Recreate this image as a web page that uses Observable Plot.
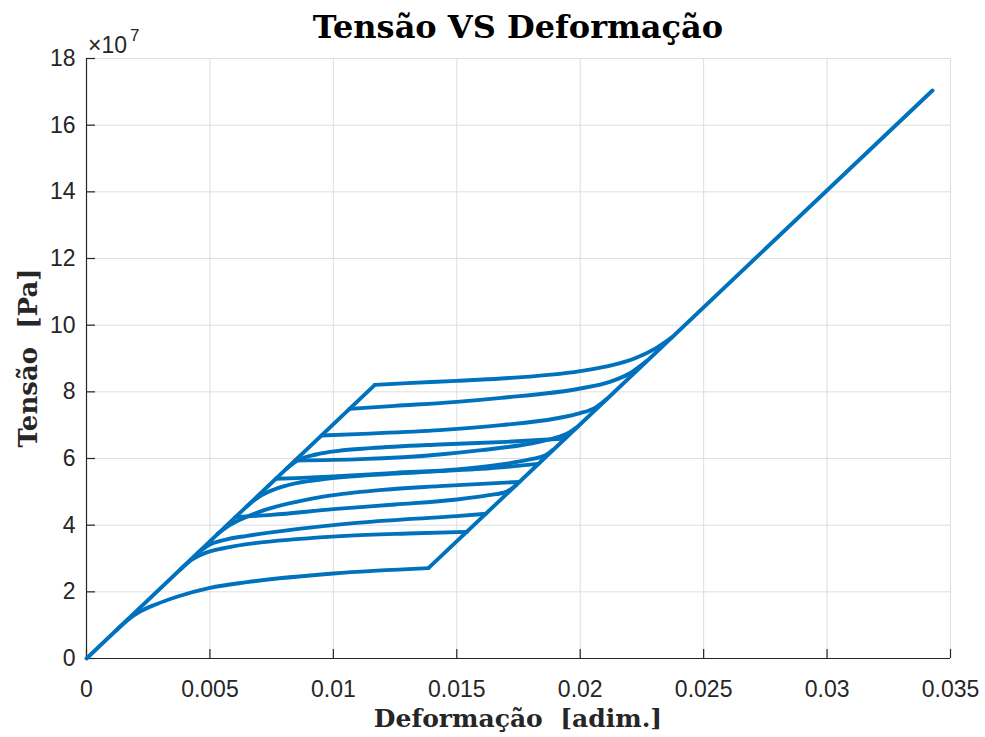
<!DOCTYPE html>
<html><head><meta charset="utf-8">
<script src="https://cdn.jsdelivr.net/npm/d3@7"></script>
<script src="https://cdn.jsdelivr.net/npm/@observablehq/plot@0.6"></script>
<style>body{margin:0;background:#fff;} #chart{width:985px;height:737px;}</style>
</head><body><div id="chart"></div>
<script>
// Tick values
const xTicks = [0, 0.005, 0.01, 0.015, 0.02, 0.025, 0.03, 0.035];
const yTicks = [0, 2, 4, 6, 8, 10, 12, 14, 16, 18]; // ×10^7 Pa

// Elastic branches [strain, stress (×10^7 Pa)]
const austeniteLine = [[0, 0], [0.01168, 8.21]];
const martensiteLine = [[0.01385, 2.71], [0.03427, 17.04]];

// Forward transformation branches (start on left line, merge into right line)
const forward1 = [[0.01168,8.21],[0.0130,8.26],[0.0150,8.33],[0.0168,8.40],[0.0200,8.62],[0.0213,8.80],[0.0222,9.00],[0.0230,9.28],[0.0237,9.63]];
const forward2 = [[0.01065,7.49],[0.0125,7.58],[0.0150,7.70],[0.0168,7.82],[0.0200,8.10],[0.0212,8.30],[0.0220,8.55],[0.0227,8.93]];
const forward3 = [[0.00952,6.69],[0.0112,6.74],[0.0143,6.85],[0.0168,7.00],[0.0190,7.20],[0.0200,7.36],[0.0206,7.52],[0.0211,7.80]];
const forward4 = [[0.00845,5.94],[0.0111,5.98],[0.0143,6.12],[0.0160,6.25],[0.0180,6.45],[0.0189,6.60],[0.0195,6.76],[0.0199,6.96]];
const forward5 = [[0.00767,5.39],[0.0085,5.41],[0.0100,5.46],[0.0125,5.57],[0.0150,5.67],[0.0168,5.82],[0.0180,5.98],[0.0186,6.10],[0.0189,6.26]];
const forward6 = [[0.00603,4.24],[0.0075,4.31],[0.0100,4.48],[0.0125,4.62],[0.0150,4.77],[0.0163,4.90],[0.0170,5.00],[0.0174,5.20]];

// Reverse transformation branches (merge into left line, start on right line)
const reverse1 = [[0.0012,0.84],[0.0017,1.17],[0.0022,1.42],[0.0028,1.62],[0.0037,1.86],[0.0050,2.12],[0.0065,2.29],[0.0100,2.55],[0.01385,2.71]];
const reverse2 = [[0.0038,2.67],[0.0043,2.98],[0.0048,3.16],[0.0055,3.30],[0.0065,3.43],[0.0085,3.58],[0.0105,3.68],[0.0130,3.75],[0.01541,3.80]];
const reverse3 = [[0.0045,3.16],[0.0050,3.42],[0.0056,3.56],[0.0065,3.68],[0.0085,3.88],[0.0105,4.04],[0.0130,4.18],[0.0150,4.27],[0.01617,4.34]];
const reverse4 = [[0.0053,3.73],[0.0058,4.00],[0.0064,4.22],[0.0072,4.45],[0.0085,4.70],[0.0100,4.90],[0.0120,5.06],[0.0143,5.17],[0.01754,5.30]];
const reverse5 = [[0.0065,4.57],[0.0070,4.86],[0.0076,5.07],[0.0085,5.26],[0.0097,5.39],[0.0115,5.50],[0.0143,5.62],[0.0160,5.69],[0.01831,5.84]];
const reverse6 = [[0.0081,5.69],[0.0086,5.96],[0.0093,6.12],[0.0102,6.23],[0.0115,6.31],[0.0143,6.42],[0.0170,6.50],[0.01939,6.60]];

const toRows = (id, pts) => pts.map(([strain, stress]) => ({id, strain, stress}));
const straightRows = [...toRows("A", austeniteLine), ...toRows("M", martensiteLine)];
const curveRows = [
  ["f1", forward1], ["f2", forward2], ["f3", forward3], ["f4", forward4], ["f5", forward5], ["f6", forward6],
  ["r1", reverse1], ["r2", reverse2], ["r3", reverse3], ["r4", reverse4], ["r5", reverse5], ["r6", reverse6]
].flatMap(([id, pts]) => toRows(id, pts));

const blue = "#0072BD";
const axisColor = "#262626";
const W = 985, H = 737, mL = 86, mR = 35, mT = 58, mB = 79;
const fw = W - mL - mR, fh = H - mT - mB;

const svg = Plot.plot({
  width: W, height: H,
  marginLeft: mL, marginRight: mR, marginTop: mT, marginBottom: mB,
  style: {fontFamily: "'Liberation Sans', Arial, Helvetica, sans-serif", fontSize: "23px", color: axisColor, background: "#fff"},
  x: {domain: [0, 0.035], label: null},
  y: {domain: [0, 18], label: null},
  marks: [
    Plot.gridX(xTicks, {stroke: "#dedede", strokeOpacity: 1, strokeWidth: 1}),
    Plot.gridY(yTicks, {stroke: "#dedede", strokeOpacity: 1, strokeWidth: 1}),
    Plot.axisX(xTicks, {tickSize: 0, tickPadding: 22, tickFormat: d => String(d), fill: axisColor, fontSize: 23, label: null}),
    Plot.axisY(yTicks, {tickSize: 0, tickPadding: 11, tickFormat: d => String(d), fill: axisColor, fontSize: 23, label: null}),
    Plot.ruleY([0], {stroke: axisColor, strokeWidth: 1.2}),
    Plot.ruleX([0], {stroke: axisColor, strokeWidth: 1.2}),
    Plot.tickX(xTicks, {x: d => d, insetTop: fh - 9, stroke: axisColor, strokeWidth: 1.2}),
    Plot.tickY(yTicks, {y: d => d, insetRight: fw - 9, stroke: axisColor, strokeWidth: 1.2}),
    Plot.line(straightRows, {x: "strain", y: "stress", z: "id", stroke: blue, strokeWidth: 3.9, strokeLinecap: "round", strokeLinejoin: "round"}),
    Plot.line(curveRows, {x: "strain", y: "stress", z: "id", curve: "monotone-x", stroke: blue, strokeWidth: 3.9, strokeLinecap: "round", strokeLinejoin: "round"})
  ]
});

const s = d3.select(svg);
const serif = "'DejaVu Serif', 'Liberation Serif', serif";
s.append("text").attr("x", mL + fw / 2).attr("y", 38).attr("text-anchor", "middle")
  .attr("font-family", serif).attr("font-weight", "bold").attr("font-size", 32).attr("fill", "#000")
  .text("Tensão VS Deformação");
s.append("text").attr("x", mL + fw / 2).attr("y", 727).attr("text-anchor", "middle")
  .attr("font-family", serif).attr("font-weight", "bold").attr("font-size", 25).attr("fill", axisColor)
  .style("white-space", "pre")
  .text("Deformação  [adim.]");
s.append("text").attr("transform", `translate(37,${mT + fh / 2}) rotate(-90)`).attr("text-anchor", "middle")
  .attr("font-family", serif).attr("font-weight", "bold").attr("font-size", 26).attr("fill", axisColor)
  .style("white-space", "pre")
  .text("Tensão  [Pa]");
const mult = s.append("text").attr("x", 88).attr("y", 53).attr("text-anchor", "start")
  .attr("font-family", "'Liberation Sans', Arial, sans-serif").attr("font-size", 23).attr("fill", axisColor);
mult.append("tspan").text("×10");
mult.append("tspan").attr("dx", 3).attr("dy", -12).attr("font-size", 17).text("7");

document.getElementById("chart").appendChild(svg);
</script>
</body></html>
